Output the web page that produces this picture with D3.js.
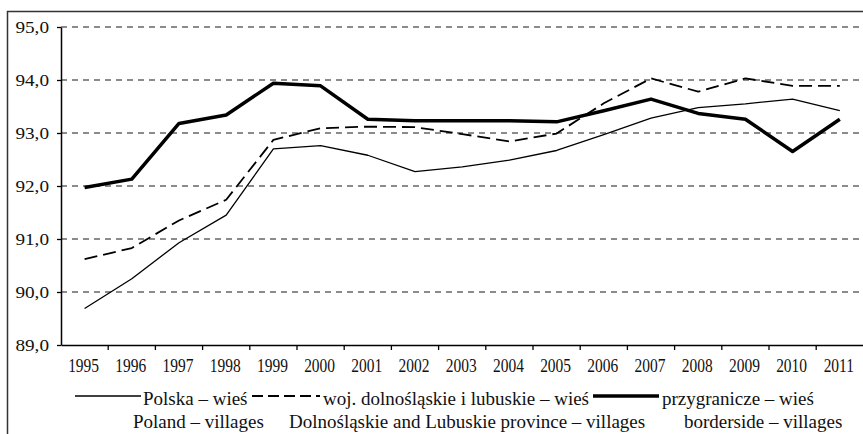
<!DOCTYPE html>
<html>
<head>
  <meta charset="utf-8">
  <style>
    body { margin: 0; background: #fff; }
  </style>
</head>
<body>
<script src="https://d3js.org/d3.v7.min.js"></script>
<script>

// data
var years = ["1995","1996","1997","1998","1999","2000","2001","2002","2003",
             "2004","2005","2006","2007","2008","2009","2010","2011"];
var polska = [89.69, 90.25, 90.93, 91.45, 92.70, 92.76, 92.58, 92.27, 92.36,
              92.49, 92.67, 92.97, 93.28, 93.48, 93.55, 93.64, 93.42];
var wojewodztwa = [90.62, 90.83, 91.35, 91.74, 92.87, 93.09, 93.12, 93.11, 92.98,
                   92.84, 92.99, 93.56, 94.03, 93.78, 94.03, 93.89, 93.89];
var przygraniczne = [91.97, 92.13, 93.18, 93.34, 93.94, 93.89, 93.26, 93.23, 93.23,
                     93.23, 93.21, 93.42, 93.64, 93.37, 93.26, 92.65, 93.26];
var yTicks = [89, 90, 91, 92, 93, 94, 95];
var legendTop = ["Polska – wieś", "woj. dolnośląskie i lubuskie – wieś", "przygranicze – wieś"];
var legendBottom = ["Poland – villages", "Dolnośląskie and Lubuskie province – villages", "borderside – villages"];

var W = 863, H = 434;
var plotLeft = 61, plotBottom = 345, plotTop = 27, plotRight = 61 + 17 * 47.2;
var serif = "Liberation Serif";

var svg = d3.select("body").append("svg")
  .attr("width", W)
  .attr("height", H)
  .attr("font-family", serif);

// outer frame (only top and left visible)
svg.append("path")
  .attr("d", "M7.5," + (H + 5) + "V11.5H" + (W + 5))
  .attr("fill", "none")
  .attr("stroke", "#333")
  .attr("stroke-width", 1.5);

var x = d3.scaleBand().domain(years).range([plotLeft, plotRight]);
var y = d3.scaleLinear().domain([89, 95]).range([plotBottom, plotTop]);

// dashed gridlines
svg.append("g").selectAll("line")
  .data(yTicks.filter(function(d) { return d > 89; }))
  .join("line")
  .attr("x1", plotLeft).attr("x2", W)
  .attr("y1", function(d) { return y(d); })
  .attr("y2", function(d) { return y(d); })
  .attr("stroke", "#666")
  .attr("stroke-width", 1.3)
  .attr("stroke-dasharray", "6,5");

// y axis
var yAxis = svg.append("g")
  .attr("transform", "translate(" + plotLeft + ",0)")
  .call(d3.axisLeft(y).tickValues(yTicks).tickSize(4).tickSizeOuter(0).tickFormat(""));
yAxis.select(".domain").attr("stroke", "#000").attr("stroke-width", 1.5);
yAxis.selectAll(".tick line").attr("stroke", "#000").attr("stroke-width", 1.3);

svg.append("g").selectAll("text")
  .data(yTicks)
  .join("text")
  .attr("transform", function(d) { return "translate(49," + (y(d) + 5.5) + ") scale(1.2,1)"; })
  .attr("text-anchor", "end")
  .attr("font-size", 16)
  .attr("font-family", serif)
  .attr("fill", "#111")
  .text(function(d) { return d.toFixed(1).replace(".", ","); });

// x axis: ticks between categories
var xAxis = svg.append("g")
  .attr("transform", "translate(0," + plotBottom + ")")
  .call(d3.axisBottom(x).tickSize(0).tickFormat(""));
xAxis.select(".domain").attr("stroke", "#000").attr("stroke-width", 1.5);

svg.append("g").selectAll("line")
  .data(years.slice(1))
  .join("line")
  .attr("x1", function(d) { return x(d); })
  .attr("x2", function(d) { return x(d); })
  .attr("y1", plotBottom).attr("y2", plotBottom + 5)
  .attr("stroke", "#000")
  .attr("stroke-width", 1.3);

svg.append("g").selectAll("text")
  .data(years)
  .join("text")
  .attr("transform", function(d) { return "translate(" + (x(d) + x.bandwidth() / 2 - 1) + ",372) scale(0.86,1)"; })
  .attr("text-anchor", "middle")
  .attr("font-size", 18)
  .attr("font-family", serif)
  .attr("fill", "#111")
  .text(function(d) { return d; });

// series
var line = d3.line()
  .x(function(d, i) { return x(years[i]) + x.bandwidth() / 2; })
  .y(function(d) { return y(d); });

var series = [
  { values: polska, width: 1.3, dash: null },
  { values: wojewodztwa, width: 1.8, dash: "13,6" },
  { values: przygraniczne, width: 3.5, dash: null }
];

series.forEach(function(s) {
  svg.append("path")
    .attr("d", line(s.values))
    .attr("fill", "none")
    .attr("stroke", "#000")
    .attr("stroke-width", s.width)
    .attr("stroke-linejoin", "round")
    .attr("stroke-dasharray", s.dash);
});

// legend
var legendLines = [[75, 141], [252, 320], [593, 659]];
var legendTextX = [143, 323, 662];
var legendBottomX = [133, 289, 684];

series.forEach(function(s, i) {
  svg.append("line")
    .attr("x1", legendLines[i][0]).attr("x2", legendLines[i][1])
    .attr("y1", 396).attr("y2", 396)
    .attr("stroke", "#000")
    .attr("stroke-width", i === 2 ? 3.5 : (i === 1 ? 2.2 : 1.3))
    .attr("stroke-dasharray", i === 1 ? "11,5" : null);
  svg.append("text")
    .attr("x", legendTextX[i]).attr("y", 405)
    .attr("font-size", 19)
    .attr("font-family", serif)
    .attr("fill", "#111")
    .text(legendTop[i]);
  svg.append("text")
    .attr("x", legendBottomX[i]).attr("y", 428)
    .attr("font-size", 19)
    .attr("font-family", serif)
    .attr("fill", "#111")
    .text(legendBottom[i]);
});

</script>
</body>
</html>
